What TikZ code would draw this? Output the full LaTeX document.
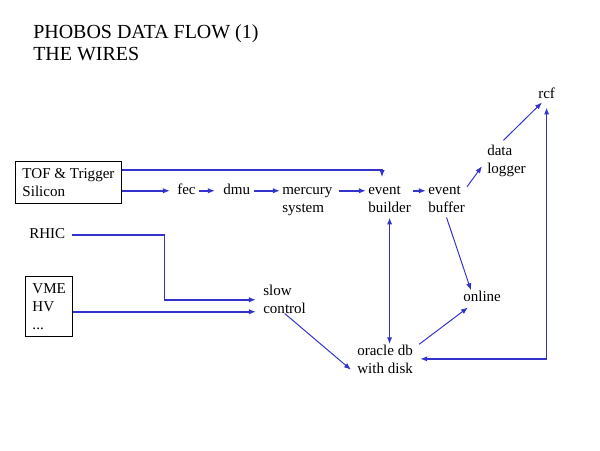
\documentclass[tikz,border=0pt]{standalone}
\usepackage{fontspec}
\setmainfont{Liberation Serif}
\usetikzlibrary{arrows.meta}
\definecolor{wire}{RGB}{51,51,204}
\tikzset{
  wtip/.tip={Latex[length=5pt,width=3.8pt]},
  lbl/.style={anchor=base west, inner xsep=0.05cm, inner ysep=0pt, align=left,
    font=\fontsize{10.7}{12.8}\selectfont},
  box/.style={draw, line width=0.7pt, anchor=north west, inner sep=0.175cm, align=left,
    font=\fontsize{10.7}{12.8}\selectfont},
  link/.style={draw=wire, line width=1.1pt, -wtip},
  thinlink/.style={link, line width=0.7pt}
}
\begin{document}
\begin{tikzpicture}[x=0.025cm, y=-0.025cm]
  \useasboundingbox (0,0) rectangle (600,450);

  % Title (base anchor sits on the last line)
  \node[anchor=base west, inner sep=0pt, align=left, font=\fontsize{14.2}{15.3}\selectfont]
    (title) at (33,60) {PHOBOS DATA FLOW (1)\\THE WIRES};

  % Sources
  \node[box] (tof) at (15,161) {TOF \& Trigger\\Silicon};
  \node[lbl] (rhic) at (27,238) {RHIC};
  \node[box] (vme) at (25,276) {VME\\HV\\...};

  % Chain
  \node[lbl] (fec) at (175,194) {fec};
  \node[lbl] (dmu) at (221,194) {dmu};
  \node[lbl] (mercury) at (280,212) {mercury\\system};
  \node[lbl] (builder) at (366,212) {event\\builder};
  \node[lbl] (buffer) at (426,212) {event\\buffer};
  \node[lbl] (logger) at (485,173) {data\\logger};
  \node[lbl] (rcf) at (536,98) {rcf};

  % Control and storage
  \node[lbl] (slow) at (261,313) {slow\\control};
  \node[lbl] (oracle) at (355,373) {oracle db\\with disk};
  \node[lbl] (online) at (461,301) {online};

  \coordinate (lvl) at (fec.mid west);
  \coordinate (rhicin) at ([xshift=-0.125cm,yshift=0.25cm]slow.mid west);
  \coordinate (vmein) at ([xshift=-0.125cm,yshift=-0.05cm]slow.mid west);

  % Wires
  \draw[link] ([yshift=-0.225cm]tof.north east) -| ([xshift=0.4cm,yshift=0.2cm]builder.north west);
  \draw[link] (tof.east |- lvl) -- ([xshift=-0.125cm]lvl);
  \draw[link] ([xshift=0.025cm]fec.mid east) -- ([xshift=-0.15cm]dmu.mid west);
  \draw[link] ([xshift=0.05cm]dmu.mid east) -- (mercury.west |- lvl);
  \draw[link] ([xshift=0.1cm]mercury.east |- lvl) -- (builder.west |- lvl);
  \draw[link] (builder.east |- lvl) -- (buffer.west |- lvl);
  \draw[thinlink] ([yshift=0.1cm]buffer.east |- lvl) -- ([xshift=-0.075cm,yshift=0.09cm]logger.mid west);
  \draw[thinlink] ([xshift=-0.075cm,yshift=0.1cm]logger.north) -- ([xshift=0.15cm,yshift=-0.1cm]rcf.south west);
  \draw[link] ([xshift=0.1cm]rhic.mid east) -- ++(93,0) |- (rhicin);
  \draw[link] (vme.east |- vmein) -- (vmein);
  \draw[thinlink] (slow.south) -- ([xshift=-0.1cm]oracle.mid west);
  \draw[link, wtip-wtip] ([yshift=-0.125cm]builder.south) -- (oracle.north -| builder.south);
  \draw[thinlink] ([yshift=-0.125cm]buffer.south) -- ([xshift=0.25cm]online.north west);
  \draw[thinlink] ([xshift=0.1cm]oracle.north east) -- ([xshift=0.175cm,yshift=-0.15cm]online.south west);
  \draw[link, wtip-wtip] ([xshift=0.125cm]oracle.east) -| ([yshift=-0.225cm]rcf.south);
\end{tikzpicture}
\end{document}
